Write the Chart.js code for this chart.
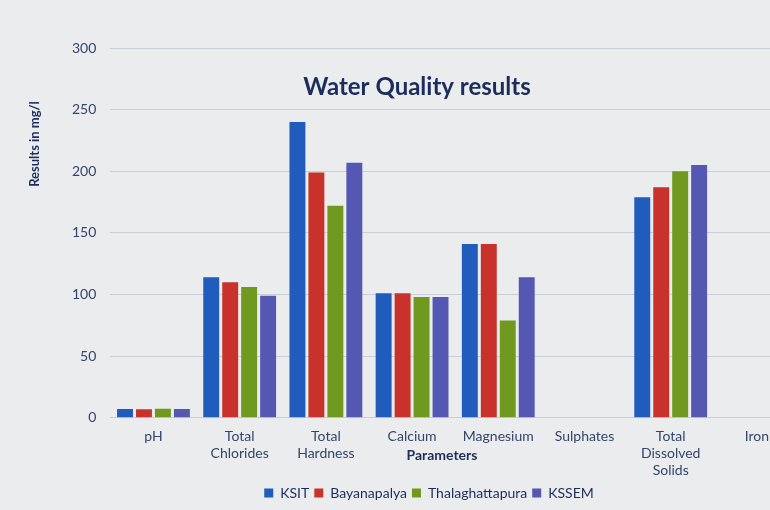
<!DOCTYPE html>
<html>
<head>
<meta charset="utf-8">
<script src="https://cdn.jsdelivr.net/npm/chart.js@4"></script>
<style>
  html, body { margin: 0; padding: 0; overflow: hidden; background: #eaeced; }
  #wrap { width: 800px; height: 510px; position: relative; }
</style>
</head>
<body>
<div id="wrap"><canvas id="waterChart"></canvas></div>
<script>
// Datos
const parameters = ['pH', ['Total', 'Chlorides'], ['Total', 'Hardness'], 'Calcium', 'Magnesium', 'Sulphates', ['Total', 'Dissolved', 'Solids'], 'Iron'];
const ksit = [7.2, 114, 240, 101, 141, null, 179, null];
const bayanapalya = [7.0, 110, 199, 101, 141, null, 187, null];
const thalaghattapura = [7.3, 106, 172, 98, 79, null, 200, null];
const kssem = [7.1, 99, 207, 98, 114, null, 205, null];
const yTicks = [0, 50, 100, 150, 200, 250, 300];

const textColor = '#34456b';
const darkText = '#1c2d5c';

// Textos sobre el área del gráfico (título y títulos de ejes)
const overlayText = {
  id: 'overlayText',
  afterDraw(chart) {
    const c = chart.ctx;
    c.save();
    c.fillStyle = darkText;
    c.textAlign = 'center';
    c.textBaseline = 'middle';
    c.font = 'bold 24px Lato';
    c.fillText('Water Quality results', 417, 87);
    c.font = 'bold 14px Lato';
    c.fillText('Parameters', 442, 455);
    c.translate(35, 144);
    c.rotate(-Math.PI / 2);
    c.font = 'bold 13px Lato';
    c.fillText('Results in mg/l', 0, 0);
    c.restore();
  }
};

const ctx = document.getElementById('waterChart');
new Chart(ctx, {
  type: 'bar',
  data: {
    labels: parameters,
    datasets: [
      { label: 'KSIT', data: ksit, backgroundColor: '#1f5cbc' },
      { label: 'Bayanapalya', data: bayanapalya, backgroundColor: '#c9322b' },
      { label: 'Thalaghattapura', data: thalaghattapura, backgroundColor: '#6f9a1f' },
      { label: 'KSSEM', data: kssem, backgroundColor: '#5558b2' }
    ]
  },
  options: {
    responsive: true,
    maintainAspectRatio: false,
    animation: false,
    categoryPercentage: 0.88,
    barPercentage: 0.84,
    layout: { padding: { left: 58, top: 48, right: 0, bottom: 0 } },
    plugins: {
      legend: {
        position: 'bottom',
        labels: {
          boxWidth: 9,
          boxHeight: 9,
          padding: 5,
          color: darkText,
          font: { family: 'Lato', size: 14 }
        }
      },
      tooltip: { enabled: false }
    },
    scales: {
      x: {
        grid: { display: false },
        border: { display: false },
        ticks: {
          color: textColor,
          padding: 2,
          maxRotation: 0,
          autoSkip: false,
          font: { family: 'Lato', size: 14, lineHeight: 1.22 }
        }
      },
      y: {
        min: 0,
        max: 300,
        afterBuildTicks(axis) { axis.ticks = yTicks.map(v => ({ value: v })); },
        grid: { color: '#c9cdd5', drawTicks: false },
        border: { display: false },
        ticks: {
          color: textColor,
          padding: 14,
          font: { family: 'Lato', size: 14 }
        }
      }
    }
  },
  plugins: [overlayText]
});
</script>
</body>
</html>
